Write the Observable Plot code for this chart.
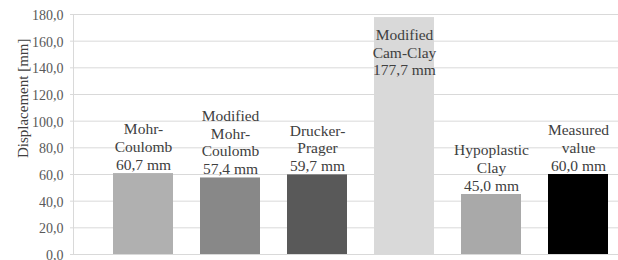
<!DOCTYPE html>
<html>
<head>
<meta charset="utf-8">
<script src="https://cdn.jsdelivr.net/npm/d3@7"></script>
<script src="https://cdn.jsdelivr.net/npm/@observablehq/plot@0.6"></script>
<style>
  html, body { margin: 0; padding: 0; background: #fff; }
  #chart svg { display: block; overflow: visible; }
  #chart svg, #chart svg text { font-family: "Liberation Serif", "Times New Roman", serif !important; }
</style>
</head>
<body>
<div id="chart"></div>
<script>
const categories = ["Mohr-Coulomb", "Modified Mohr-Coulomb", "Drucker-Prager", "Modified Cam-Clay", "Hypoplastic Clay", "Measured value"];
const labelLines = ["Mohr-\nCoulomb", "Modified\nMohr-\nCoulomb", "Drucker-\nPrager", "Modified\nCam-Clay", "Hypoplastic\nClay", "Measured\nvalue"];
const values = [60.7, 57.4, 59.7, 177.7, 45.0, 60.0];
const barColors = ["#b0b0b0", "#888888", "#595959", "#d9d9d9", "#a9a9a9", "#000000"];
const yTicks = [0, 20, 40, 60, 80, 100, 120, 140, 160, 180];
const yTitle = "Displacement [mm]";

const fmt = v => v.toFixed(1).replace(".", ",");
const data = categories.map((c, i) => ({
  cat: c,
  value: values[i],
  color: barColors[i],
  label: labelLines[i] + "\n" + fmt(values[i]) + " mm"
}));

const font = "Liberation Serif";

const chart = Plot.plot({
  width: 618,
  height: 260,
  marginTop: 14,
  marginBottom: 6,
  marginLeft: 70,
  marginRight: 0,
  style: { background: "#fff" },
  x: { type: "band", domain: categories, range: [85.5, 635], padding: 0.31, axis: null },
  y: { domain: [0, 180], ticks: yTicks, axis: null },
  color: { type: "identity" },
  marks: [
    Plot.gridY(yTicks, { stroke: "#d9d9d9", strokeOpacity: 1, strokeWidth: 1 }),
    Plot.frame({ anchor: "left", dx: 3, stroke: "#d9d9d9" }),
    Plot.barY(data, { x: "cat", y: "value", fill: "color" }),
    Plot.axisY(yTicks, {
      tickSize: 0, tickPadding: 7, tickFormat: fmt, fontSize: 14, fontFamily: font,
      fill: "#595959", dy: 1, label: null
    }),
    Plot.text([yTitle], {
      frameAnchor: "top-left", rotate: -90, textAnchor: "end",
      dx: -53, dy: 24, fontSize: 15, fontFamily: font, fill: "#404040"
    }),
    Plot.text(data.filter(d => d.value < 150), {
      x: "cat", y: "value", text: "label", lineAnchor: "bottom",
      dy: -4, lineHeight: 1.14, fontSize: 15.5, fontFamily: font, fill: "#404040"
    }),
    Plot.text(data.filter(d => d.value >= 150), {
      x: "cat", y: "value", text: "label", lineAnchor: "top",
      dy: 10, lineHeight: 1.14, fontSize: 15.5, fontFamily: font, fill: "#404040"
    })
  ]
});
document.getElementById("chart").appendChild(chart);
</script>
</body>
</html>
